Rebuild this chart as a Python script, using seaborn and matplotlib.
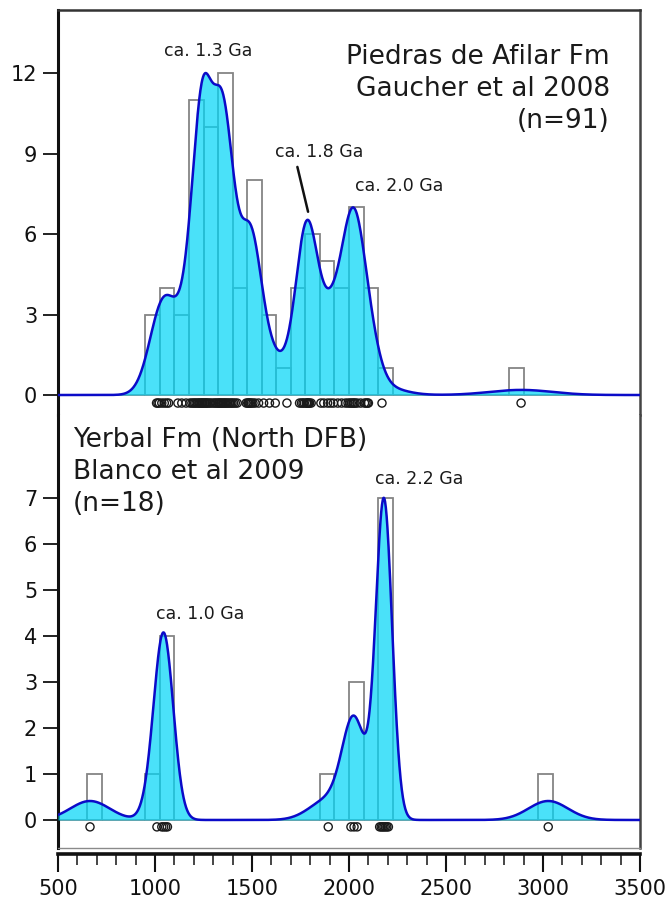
import numpy as np
import matplotlib
matplotlib.use("Agg")
import matplotlib.pyplot as plt
import seaborn as sns

top_ages = [1008, 1015, 1022,
            1035, 1048, 1060, 1070,
            1118, 1138, 1160,
            1180, 1190, 1198, 1205, 1212, 1220, 1226, 1232, 1238, 1243, 1248,
            1254, 1260, 1265, 1270, 1278, 1285, 1295, 1305, 1312, 1320,
            1327, 1332, 1338, 1343, 1350, 1356, 1362, 1368, 1375, 1382, 1390, 1397,
            1405, 1414, 1424, 1470,
            1478, 1482, 1486, 1491, 1497, 1505, 1516, 1534,
            1560, 1590, 1620,
            1680,
            1745, 1755, 1763, 1770,
            1780, 1784, 1788, 1792, 1797, 1805,
            1855, 1870, 1890, 1905, 1920,
            1942, 1962, 1982, 1995,
            2005, 2012, 2020, 2026, 2032, 2042, 2060,
            2080, 2088, 2095, 2100,
            2170,
            2887]
bottom_ages = [665,
               1010, 1035, 1045, 1055, 1064,
               1893,
               2010, 2026, 2042,
               2158, 2166, 2173, 2180, 2187, 2195, 2203,
               3027]

top_title = "Piedras de Afilar Fm\nGaucher et al 2008\n(n=91)"
bottom_title = "Yerbal Fm (North DFB)\nBlanco et al 2009\n(n=18)"
top_peaks = ["ca. 1.3 Ga", "ca. 1.8 Ga", "ca. 2.0 Ga"]
bottom_peaks = ["ca. 1.0 Ga", "ca. 2.2 Ga"]
top_yticks = [0, 3, 6, 9, 12]
bottom_yticks = [0, 1, 2, 3, 4, 5, 6, 7]
x_major = [500, 1000, 1500, 2000, 2500, 3000, 3500]
bin_width = 75
x_min, x_max = 500, 3500

# ---------------- helpers ----------------
def adaptive_kde(ages, grid, h0):
    x = np.asarray(ages, float)
    n = len(x)
    f0 = np.exp(-0.5 * ((x[:, None] - x[None, :]) / h0) ** 2).sum(1) / (n * h0 * np.sqrt(2 * np.pi))
    g = np.exp(np.mean(np.log(f0)))
    h = h0 * np.sqrt(g / f0)
    d = (np.exp(-0.5 * ((grid[:, None] - x[None, :]) / h[None, :]) ** 2)
         / (h[None, :] * np.sqrt(2 * np.pi))).sum(1) / n
    return d

sns.set_style("ticks")
plt.rcParams["font.family"] = ["DejaVu Sans"]

fig = plt.figure(figsize=(6.72, 9), dpi=100)
fig.patch.set_facecolor("white")
L, W = 58 / 672, 582 / 672
ax1 = fig.add_axes([L, 1 - 415 / 900, W, 405 / 900])
ax2 = fig.add_axes([L, 1 - 848 / 900, W, 433 / 900])

bins = np.arange(x_min, x_max + 1, bin_width)
grid = np.linspace(x_min, x_max, 1501)
fill_col = (0.0, 0.84, 0.97)
line_col = "#0b0bc8"
edge_col = "#858585"

panels = [(ax1, top_ages, 50, -0.3, (-0.745, 14.35), top_yticks),
          (ax2, bottom_ages, 52, -0.15, (-0.609, 8.80), bottom_yticks)]

for ax, ages, h0, rug_y, ylim, yt in panels:
    sns.histplot(x=ages, bins=bins, ax=ax, fill=False, color=edge_col,
                 linewidth=1.3, element="bars")
    counts, _ = np.histogram(ages, bins=bins)
    dens = adaptive_kde(ages, grid, h0)
    dens = dens * counts.max() / dens.max()
    ax.fill_between(grid, 0, dens, color=fill_col, alpha=0.71, lw=0, zorder=3)
    sns.lineplot(x=grid, y=dens, ax=ax, color=line_col, lw=1.8, zorder=4)
    ax.scatter(ages, np.full(len(ages), rug_y), s=34, facecolors="none",
               edgecolors="#1a1a1a", linewidths=1.0, zorder=5, clip_on=False)
    ax.set_xlim(x_min, x_max)
    ax.set_ylim(*ylim)
    ax.set_yticks(yt)
    ax.set_ylabel("")
    ax.set_xlabel("")
    ax.tick_params(axis="y", length=11, width=1.3, direction="out",
                   labelsize=15, pad=4, colors="#111111")
    ax.spines["left"].set_linewidth(2.2)
    ax.spines["left"].set_color("#111111")
    ax.spines["right"].set_visible(True)
    ax.spines["right"].set_linewidth(1.8)
    ax.spines["right"].set_color("#444444")
    ax.set_facecolor("white")

# top panel frame
ax1.spines["top"].set_visible(True)
ax1.spines["top"].set_linewidth(1.8)
ax1.spines["top"].set_color("#333333")
ax1.spines["bottom"].set_visible(False)
ax1.tick_params(axis="x", bottom=False, labelbottom=False)

# bottom panel frame and x-axis
ax2.spines["top"].set_visible(False)
ax2.spines["bottom"].set_position(("outward", 4))
ax2.spines["bottom"].set_linewidth(2.6)
ax2.spines["bottom"].set_color("#111111")
ax2.plot([0, 1], [0, 0], transform=ax2.transAxes, color="#8a8a8a", lw=1.0,
         clip_on=False, zorder=6)
ax2.set_xticks(x_major)
ax2.set_xticks(np.arange(x_min, x_max + 1, 100), minor=True)
ax2.tick_params(axis="x", which="major", length=13, width=1.5, direction="out",
                labelsize=15, pad=5, colors="#111111")
ax2.tick_params(axis="x", which="minor", length=8, width=1.2, direction="out")

# panel titles
ax1.text(0.948, 0.915, top_title, transform=ax1.transAxes, ha="right", va="top",
         fontsize=19, linespacing=1.3, color="#1a1a1a")
ax2.text(0.026, 0.972, bottom_title, transform=ax2.transAxes, ha="left", va="top",
         fontsize=19, linespacing=1.3, color="#1a1a1a")

# peak annotations
ann_kw = dict(fontsize=12.5, ha="center", va="center", color="#1a1a1a", zorder=7)
ax1.text(1273, 12.83, top_peaks[0], **ann_kw)
ax1.annotate(top_peaks[1], xy=(1789, 6.83), xytext=(1845, 9.06),
             arrowprops=dict(arrowstyle="-", lw=1.8, color="#111111",
                             relpos=(0.24, 0.0), shrinkA=2, shrinkB=0),
             **ann_kw)
ax1.text(2258, 7.8, top_peaks[2], **ann_kw)
ax2.text(1232, 4.47, bottom_peaks[0], **ann_kw)
ax2.text(2361, 7.41, bottom_peaks[1], **ann_kw)

fig.savefig("out.png", dpi=100, facecolor="white")
